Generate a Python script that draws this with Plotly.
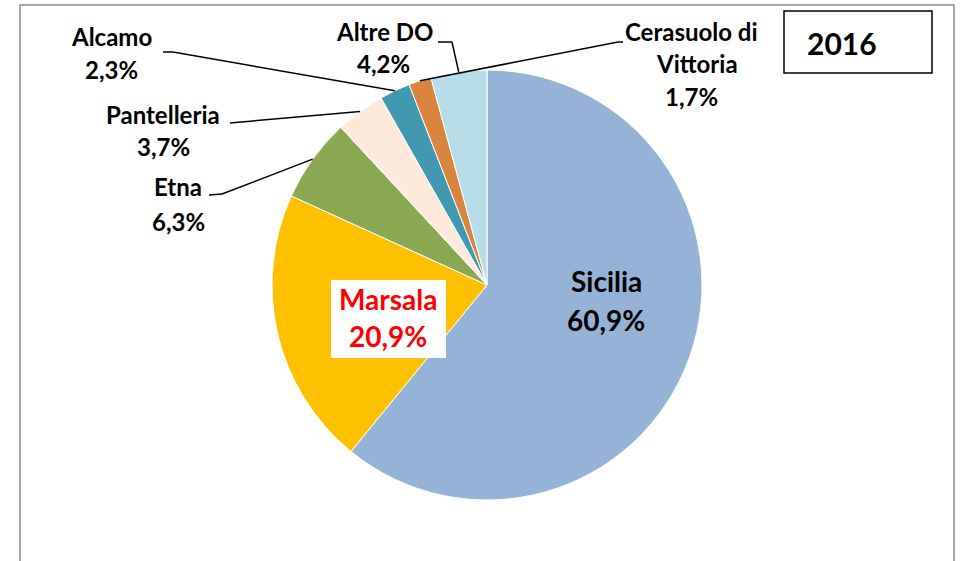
import math
import plotly.graph_objects as go

# ---- data ----
labels = ["Sicilia", "Marsala", "Etna", "Pantelleria", "Alcamo", "Cerasuolo di Vittoria", "Altre DO"]
values = [60.9, 20.9, 6.3, 3.7, 2.3, 1.7, 4.2]
value_text = ["60,9%", "20,9%", "6,3%", "3,7%", "2,3%", "1,7%", "4,2%"]
colors = ["#95B3D7", "#FFC000", "#8AA752", "#FDEADA", "#4298B0", "#D9843F", "#B7DDE8"]
year = "2016"

W, H = 961, 561
CX, CY, R = 487, 285, 215
FONT = "Lato"


def X(px):
    return px / W


def Y(py):
    return 1 - py / H


fig = go.Figure(go.Pie(
    labels=labels, values=values, sort=False, direction="clockwise", rotation=0,
    marker=dict(colors=colors, line=dict(color="white", width=1)),
    textinfo="none", hoverinfo="label+percent", showlegend=False,
    domain=dict(x=[X(CX - R), X(CX + R)], y=[Y(CY + R), Y(CY - R)]),
))

shapes = []
annotations = []


def text(px, py, s, size, color="black"):
    annotations.append(dict(xref="paper", yref="paper", x=X(px), y=Y(py), text="<b>%s</b>" % s,
                            xanchor="center", yanchor="middle", showarrow=False,
                            font=dict(family=FONT, size=size, color=color)))


# outer frame
shapes.append(dict(type="rect", xref="paper", yref="paper", x0=X(20), x1=X(954), y0=Y(580), y1=Y(5),
                   line=dict(color="#8C8C8C", width=1.5), fillcolor="rgba(0,0,0,0)"))
# year box
shapes.append(dict(type="rect", xref="paper", yref="paper", x0=X(784), x1=X(932), y0=Y(73), y1=Y(11),
                   line=dict(color="black", width=1.5), fillcolor="white"))
text(842, 43, year, 30)

# slice mid-angle point on the rim, from the data
total = sum(values)


def rim(i):
    before = sum(values[:i])
    ang = 2 * math.pi * (before + values[i] / 2) / total
    return CX + R * math.sin(ang), CY - R * math.cos(ang)


# inside labels
idx = labels.index("Sicilia")
text(606, 281, labels[idx], 28)
text(606, 320, value_text[idx], 28)
idx = labels.index("Marsala")
shapes.append(dict(type="rect", xref="paper", yref="paper", x0=X(331), x1=X(446), y0=Y(358), y1=Y(280),
                   line=dict(width=0), fillcolor="white", layer="above"))
text(388, 299, labels[idx], 28, "#FF0000")
text(388, 336, value_text[idx], 28, "#FF0000")

# outside labels: (text lines with pixel centres, stub start, stub end)
outside = {
    "Alcamo": ([("Alcamo", 111, 37), ("2,3%", 111, 70)], (163, 52), (173, 52)),
    "Pantelleria": ([("Pantelleria", 163, 114), ("3,7%", 163, 147)], (230, 123), (241, 122)),
    "Etna": ([("Etna", 178, 187), ("6,3%", 178, 221)], (209, 195), (222, 194)),
    "Altre DO": ([("Altre DO", 384, 32), ("4,2%", 383, 64)], (438, 42), (452, 42)),
    "Cerasuolo di Vittoria": ([("Cerasuolo di", 691, 32), ("Vittoria", 697, 63), ("1,7%", 691, 96)],
                              (623, 42), (618, 42)),
}
for name, (lines, s0, s1) in outside.items():
    for txt, lx, ly in lines:
        text(lx, ly, txt, 24)
    px, py = rim(labels.index(name))
    shapes.append(dict(type="line", xref="paper", yref="paper", x0=X(s0[0]), y0=Y(s0[1]),
                       x1=X(s1[0]), y1=Y(s1[1]), line=dict(color="black", width=1.5)))
    shapes.append(dict(type="line", xref="paper", yref="paper", x0=X(s1[0]), y0=Y(s1[1]),
                       x1=X(px), y1=Y(py), line=dict(color="black", width=1.5)))

fig.update_layout(
    width=W, height=H, margin=dict(l=0, r=0, t=0, b=0),
    paper_bgcolor="white", plot_bgcolor="white",
    shapes=shapes, annotations=annotations,
)

fig.write_html("out.html", config={"displayModeBar": False},
               post_script="document.body.style.margin='0';")
